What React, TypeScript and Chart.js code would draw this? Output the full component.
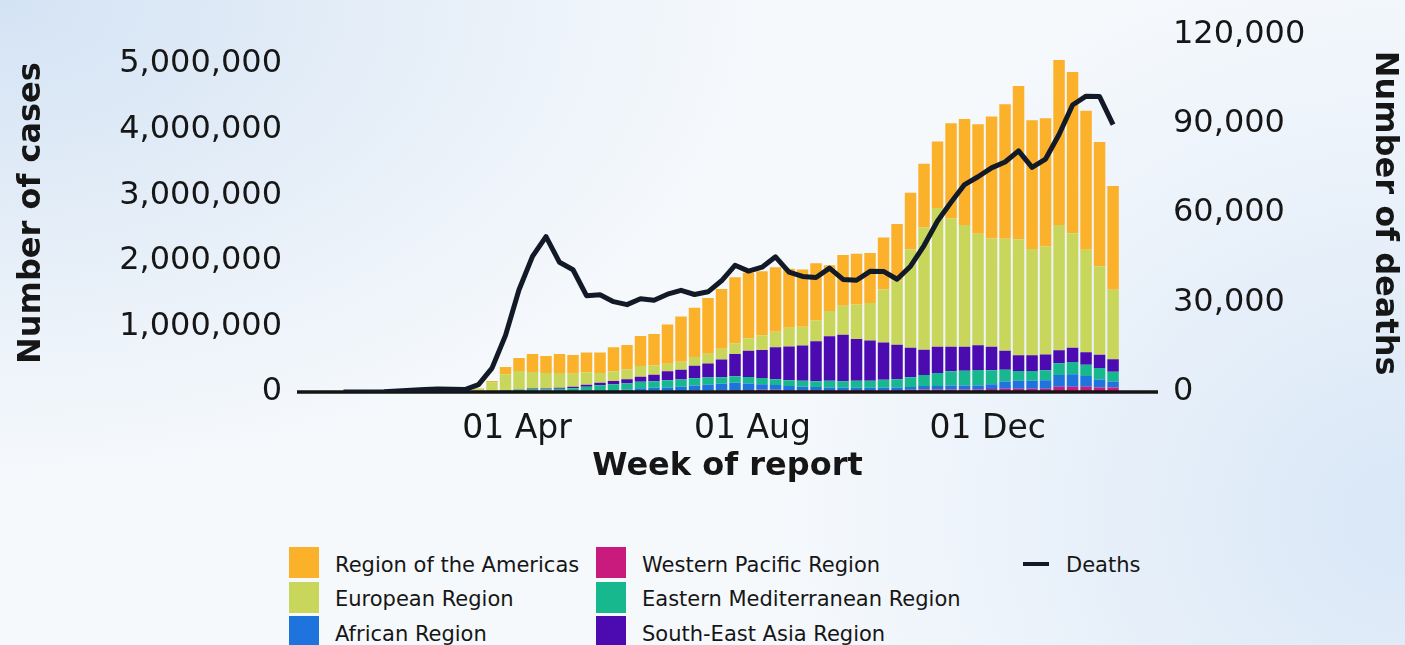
import React, { useEffect, useRef } from 'react';
import { Chart, registerables } from 'chart.js';

Chart.register(...registerables);

// ---- Data -------------------------------------------------------------
const WEEKS = [
  '2020-01-02', '2020-01-09', '2020-01-16', '2020-01-23', '2020-01-30',
  '2020-02-06', '2020-02-13', '2020-02-20', '2020-02-27',
  '2020-03-05', '2020-03-12', '2020-03-19', '2020-03-26',
  '2020-04-02', '2020-04-09', '2020-04-16', '2020-04-23', '2020-04-30',
  '2020-05-07', '2020-05-14', '2020-05-21', '2020-05-28',
  '2020-06-04', '2020-06-11', '2020-06-18', '2020-06-25',
  '2020-07-02', '2020-07-09', '2020-07-16', '2020-07-23', '2020-07-30',
  '2020-08-06', '2020-08-13', '2020-08-20', '2020-08-27',
  '2020-09-03', '2020-09-10', '2020-09-17', '2020-09-24',
  '2020-10-01', '2020-10-08', '2020-10-15', '2020-10-22', '2020-10-29',
  '2020-11-05', '2020-11-12', '2020-11-19', '2020-11-26',
  '2020-12-03', '2020-12-10', '2020-12-17', '2020-12-24', '2020-12-31',
  '2021-01-07', '2021-01-14', '2021-01-21', '2021-01-28', '2021-02-04',
];

const AMERICAS = [
  0, 0, 0, 0, 0, 0, 0, 0, 0, 200, 5000,
  20000, 110000, 200000, 276000, 260000, 290000, 285000, 300000, 310000, 365000, 375000,
  455000, 480000, 600000, 690000, 749000, 850000, 910000, 1010000, 1000000, 974000,
  984000, 899000, 874000, 874000, 698000, 773000, 775000, 759000, 790000, 860000,
  865000, 974000, 1014000, 1449000, 1613000, 1669000, 1862000, 2050000, 2337000, 1963000,
  1953000, 2513000, 2457000, 2117000, 1895000, 1582000,
];

const EUROPE = [
  0, 0, 0, 0, 0, 0, 0, 0, 200, 3000, 40000,
  130000, 240000, 280000, 250000, 235000, 225000, 200000, 190000, 150000, 150000, 150000,
  165000, 141000, 114000, 120000, 135000, 150000, 165000, 159000, 189000, 225000,
  235000, 285000, 285000, 315000, 385000, 440000, 524000, 574000, 809000, 980000,
  1498000, 1862000, 2113000, 1958000, 1858000, 1698000, 1648000, 1708000, 1768000, 1618000,
  1648000, 1912000, 1747000, 1564000, 1348000, 1059000,
];

const SOUTH_EAST_ASIA = [
  0, 0, 0, 0, 0, 0, 0, 0, 0, 0, 200,
  1000, 3000, 5000, 10000, 12000, 17000, 22000, 30000, 40000, 50000, 60000,
  75000, 99000, 135000, 150000, 190000, 214000, 270000, 340000, 400000, 426000,
  488000, 514000, 539000, 610000, 679000, 709000, 638000, 614000, 570000, 525000,
  450000, 385000, 400000, 375000, 364000, 379000, 360000, 289000, 240000, 240000,
  240000, 195000, 216000, 189000, 205000, 190000,
];

const EASTERN_MEDITERRANEAN = [
  0, 0, 0, 0, 0, 0, 0, 0, 500, 4000, 8000,
  10000, 20000, 25000, 30000, 30000, 35000, 45000, 60000, 75000, 85000, 95000,
  100000, 100000, 110000, 110000, 110000, 110000, 100000, 100000, 100000, 95000,
  90000, 90000, 90000, 90000, 100000, 100000, 105000, 105000, 120000, 126000,
  150000, 170000, 200000, 215000, 225000, 235000, 210000, 180000, 150000, 150000,
  150000, 180000, 189000, 171000, 174000, 150000,
];

const AFRICA = [
  0, 0, 0, 0, 0, 0, 0, 0, 0, 0, 100,
  1000, 2000, 3000, 5000, 6000, 8000, 9000, 15000, 20000, 25000, 30000,
  45000, 50000, 55000, 65000, 80000, 90000, 100000, 110000, 100000, 85000,
  70000, 60000, 50000, 45000, 40000, 35000, 35000, 35000, 35000, 40000,
  40000, 50000, 50000, 60000, 60000, 60000, 75000, 110000, 120000, 120000,
  130000, 180000, 189000, 165000, 120000, 90000,
];

const WESTERN_PACIFIC = [
  0, 0, 100, 3000, 12000, 20000, 18000, 8000, 3000, 2000, 3000,
  5000, 5000, 7000, 9000, 7000, 5000, 4000, 6000, 6000, 7000, 8000,
  12000, 15000, 15000, 15000, 20000, 20000, 25000, 30000, 30000, 35000,
  35000, 30000, 30000, 30000, 30000, 30000, 30000, 30000, 30000, 30000,
  35000, 40000, 40000, 40000, 40000, 40000, 45000, 50000, 50000, 50000,
  50000, 80000, 80000, 80000, 70000, 70000,
];

const DEATHS = [
  0, 2, 10, 80, 300, 550, 800, 1000, 900, 800, 2500,
  8000, 19000, 34300, 45500, 52100, 43500, 41000, 32300, 32600, 30300, 29300,
  31300, 30800, 32800, 34100, 32700, 33600, 37300, 42500, 40550, 41870,
  45330, 40220, 38740, 38410, 41540, 37750, 37480, 40480, 40450, 37810,
  42200, 49120, 57360, 63630, 69560, 72200, 75170, 77140, 80870, 75330,
  78130, 86370, 96260, 99230, 99070, 89670,
];

const X_TICK_DATES = ['2020-04-01', '2020-08-01', '2020-12-01'];
const X_TICK_LABELS = ['01 Apr', '01 Aug', '01 Dec'];
const CASES_TICKS = [0, 1000000, 2000000, 3000000, 4000000, 5000000];
const DEATHS_TICKS = [0, 30000, 60000, 90000, 120000];

const COLORS = {
  americas: '#fcb12b',
  europe: '#c8d65b',
  africa: '#1f73dd',
  westernPacific: '#c81b7d',
  easternMed: '#17b88e',
  southEastAsia: '#4b0bb0',
  deaths: '#121a28',
};

const FONT = 'DejaVu Sans';
const TEXT = '#161616';

const dayOf = (s: string) => {
  const [y, m, d] = s.split('-').map(Number);
  return (Date.UTC(y, m - 1, d) - Date.UTC(2020, 0, 1)) / 86400000;
};

const fmt = (v: number) => Math.round(v).toLocaleString('en-US');

export default function App() {
  const canvasRef = useRef<HTMLCanvasElement>(null);

  useEffect(() => {
    const canvas = canvasRef.current;
    if (!canvas) return;
    const days = WEEKS.map(dayOf);
    const pts = (arr: number[]) => arr.map((v, i) => ({ x: days[i], y: v }));
    const tickDays = X_TICK_DATES.map(dayOf);

    const axisLine = {
      id: 'axisLine',
      beforeDatasetDraw(chart: any, args: any) {
        if (args.meta.type !== 'line') return;
        const { ctx, chartArea } = chart;
        ctx.save();
        ctx.strokeStyle = '#141414';
        ctx.lineWidth = 3.5;
        ctx.beginPath();
        ctx.moveTo(chartArea.left, chartArea.bottom);
        ctx.lineTo(chartArea.right, chartArea.bottom);
        ctx.stroke();
        ctx.restore();
      },
    };

    const bar = (label: string, data: number[], color: string) => ({
      type: 'bar' as const,
      label,
      data: pts(data),
      backgroundColor: color,
      borderWidth: 0,
      stack: 'cases',
      yAxisID: 'y',
      xAxisID: 'x',
      order: 1,
      barPercentage: 0.85,
      categoryPercentage: 1,
    });

    const chart = new Chart(canvas, {
      type: 'bar',
      data: {
        datasets: [
          {
            type: 'line',
            label: 'Deaths',
            data: pts(DEATHS),
            borderColor: COLORS.deaths,
            backgroundColor: COLORS.deaths,
            borderWidth: 5,
            pointRadius: 0,
            tension: 0,
            borderJoinStyle: 'round',
            borderCapStyle: 'butt',
            yAxisID: 'y1',
            xAxisID: 'x',
            order: 0,
          } as any,
          bar('Western Pacific Region', WESTERN_PACIFIC, COLORS.westernPacific),
          bar('African Region', AFRICA, COLORS.africa),
          bar('Eastern Mediterranean Region', EASTERN_MEDITERRANEAN, COLORS.easternMed),
          bar('South-East Asia Region', SOUTH_EAST_ASIA, COLORS.southEastAsia),
          bar('European Region', EUROPE, COLORS.europe),
          bar('Region of the Americas', AMERICAS, COLORS.americas),
        ],
      },
      options: {
        responsive: false,
        animation: false,
        devicePixelRatio: 1,
        layout: { padding: { top: 28, bottom: 14, left: 0, right: 0 } },
        plugins: { legend: { display: false }, tooltip: { enabled: false } },
        scales: {
          x: {
            type: 'linear',
            offset: false,
            min: days[0] - 24.1,
            max: days[days.length - 1] + 23.3,
            afterBuildTicks: (s: any) => {
              s.ticks = tickDays.map((v) => ({ value: v }));
            },
            afterFit: (s: any) => {
              s.height = 94;
            },
            ticks: {
              autoSkip: false,
              maxRotation: 0,
              padding: 18,
              color: TEXT,
              font: { family: FONT, size: 33 },
              callback: (_v: any, i: number) => X_TICK_LABELS[i],
            },
            grid: { display: false, drawTicks: false, offset: false },
            border: { display: false },
            title: {
              display: true,
              text: 'Week of report',
              color: TEXT,
              font: { family: FONT, size: 32, weight: 'bold' },
              padding: 0,
            },
          },
          y: {
            type: 'linear',
            position: 'left',
            stacked: true,
            min: 0,
            max: 5454000,
            afterBuildTicks: (s: any) => {
              s.ticks = CASES_TICKS.map((v) => ({ value: v }));
            },
            afterFit: (s: any) => {
              s.width = 297;
            },
            ticks: {
              padding: 15,
              color: TEXT,
              font: { family: FONT, size: 32 },
              callback: (v: any) => fmt(Number(v)),
            },
            grid: { display: false, drawTicks: false },
            border: { display: false },
            title: {
              display: true,
              text: 'Number of cases',
              color: TEXT,
              font: { family: FONT, size: 32, weight: 'bold' },
              padding: { top: 12, bottom: 0 },
            },
          },
          y1: {
            type: 'linear',
            position: 'right',
            min: 0,
            max: 120000,
            afterBuildTicks: (s: any) => {
              s.ticks = DEATHS_TICKS.map((v) => ({ value: v }));
            },
            afterFit: (s: any) => {
              s.width = 247;
            },
            ticks: {
              padding: 15,
              color: TEXT,
              font: { family: FONT, size: 32 },
              callback: (v: any) => fmt(Number(v)),
            },
            grid: { display: false, drawTicks: false },
            border: { display: false },
            title: {
              display: true,
              text: 'Number of deaths',
              color: TEXT,
              font: { family: FONT, size: 32, weight: 'bold' },
              padding: { top: 1, bottom: 0 },
            },
          },
        },
      } as any,
      plugins: [axisLine],
    });

    return () => chart.destroy();
  }, []);

  const legendCols = [
    [
      { label: 'Region of the Americas', color: COLORS.americas },
      { label: 'European Region', color: COLORS.europe },
      { label: 'African Region', color: COLORS.africa },
    ],
    [
      { label: 'Western Pacific Region', color: COLORS.westernPacific },
      { label: 'Eastern Mediterranean Region', color: COLORS.easternMed },
      { label: 'South-East Asia Region', color: COLORS.southEastAsia },
    ],
  ];
  const colX = [289, 596];
  const rowY = [547, 581.5, 616];

  return (
    <div
      style={{
        position: 'fixed',
        left: 0,
        top: 0,
        width: 1405,
        height: 645,
        overflow: 'hidden',
        fontFamily: FONT,
        color: TEXT,
        background:
          'radial-gradient(ellipse 55% 75% at 0% 0%, #d4e3f4 0%, rgba(212,227,244,0) 100%),' +
          'radial-gradient(ellipse 45% 90% at 100% 80%, #d9e7f7 0%, rgba(217,231,247,0) 100%),' +
          '#f6f9fc',
      }}
    >
      <canvas
        ref={canvasRef}
        width={1405}
        height={500}
        style={{ position: 'absolute', left: 0, top: 0, width: 1405, height: 500 }}
      />
      {legendCols.map((col, ci) =>
        col.map((item, ri) => (
          <div
            key={item.label}
            style={{
              position: 'absolute',
              left: colX[ci],
              top: rowY[ri],
              height: 31,
              display: 'flex',
              alignItems: 'center',
              whiteSpace: 'nowrap',
            }}
          >
            <div style={{ width: 30, height: 31, background: item.color }} />
            <span style={{ marginLeft: 16, fontSize: 21, lineHeight: '30px', position: 'relative', top: 2 }}>
              {item.label}
            </span>
          </div>
        ))
      )}
      <div
        style={{
          position: 'absolute',
          left: 1023,
          top: rowY[0],
          height: 31,
          display: 'flex',
          alignItems: 'center',
          whiteSpace: 'nowrap',
        }}
      >
        <div style={{ width: 26, height: 4, background: COLORS.deaths, position: 'relative', top: 1 }} />
        <span style={{ marginLeft: 17, fontSize: 21, lineHeight: '30px', position: 'relative', top: 2 }}>Deaths</span>
      </div>
    </div>
  );
}
